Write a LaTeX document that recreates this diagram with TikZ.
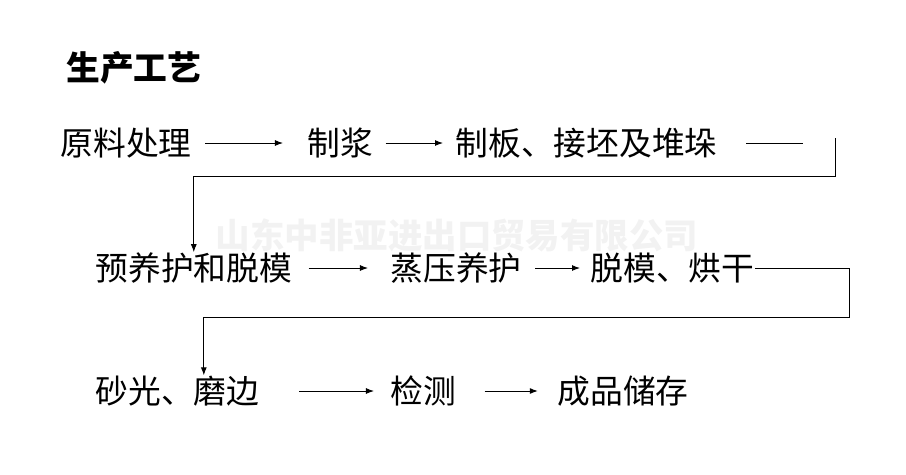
\documentclass[tikz,border=0pt]{standalone}
\usepackage{fontspec}
\newfontfamily\cjk{Noto Sans CJK SC}
\usetikzlibrary{arrows.meta}
\begin{document}
\begin{tikzpicture}[x=0.025cm, y=-0.025cm, font=\cjk\fontsize{23.3}{26}\selectfont, line width=0.7pt,
      >={Latex[length=2mm,width=1.5mm]},
      stage/.style={inner sep=0pt, anchor=west}]
    \useasboundingbox (0,0) rectangle (906,474);
    \node[text=black!5, font=\cjk\bfseries\fontsize{24.5}{28}\selectfont] (wm) at (457,235) {山东中非亚进出口贸易有限公司};
    \node[stage, font=\cjk\bfseries\fontsize{24}{28}\selectfont] (title) at (66,68) {生产工艺};
    \node[stage] (raw) at (60,143) {原料处理};
    \node[stage] (slurry) at (307,143) {制浆};
    \node[stage] (board) at (455,143) {制板、接坯及堆垛};
    \node[stage] (precure) at (95,268) {预养护和脱模};
    \node[stage] (steam) at (390,268) {蒸压养护};
    \node[stage] (dry) at (590,268) {脱模、烘干};
    \node[stage] (sand) at (95,391) {砂光、磨边};
    \node[stage] (check) at (390,391) {检测};
    \node[stage] (store) at (557,391) {成品储存};
    \coordinate (r1) at (835,138);
    \draw[->, shorten <=0.33cm, shorten >=0.6cm] (raw) -- (slurry);
    \draw[->, shorten <=0.3cm, shorten >=0.3cm] (slurry) -- (board);
    \draw[shorten <=0.7cm, shorten >=0.8cm] (board.east) -- (board.east -| r1);
    \draw[->] (r1) -- ++(0,38) -| (precure.north);
    \draw[->, shorten <=0.4cm, shorten >=0.55cm] (precure) -- (steam);
    \draw[->, shorten <=0.33cm, shorten >=0.25cm] (steam) -- (dry);
    \draw[->] (dry.east) -| ++(95,49) -| ([xshift=0.66cm]sand.north);
    \draw[->, shorten <=0.98cm, shorten >=0.4cm] (sand) -- (check);
    \draw[->, shorten <=0.7cm, shorten >=0.48cm] (check) -- (store);
  \end{tikzpicture}
\end{document}
